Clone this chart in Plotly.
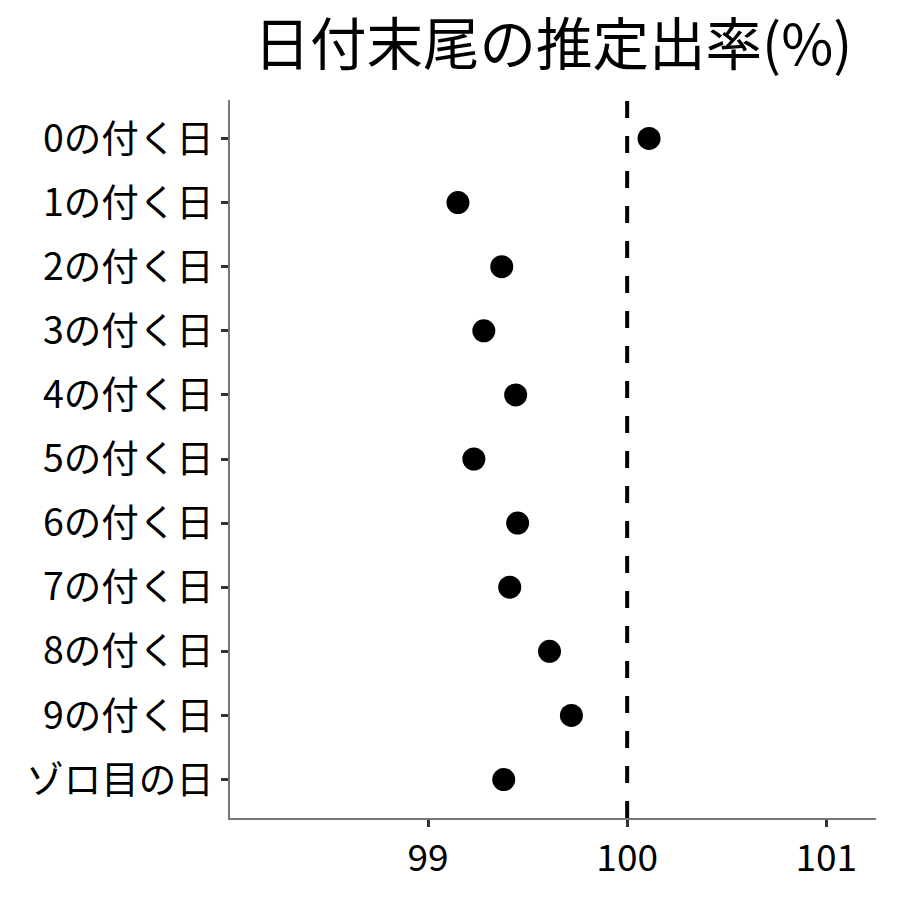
import plotly.graph_objects as go

categories = ["0の付く日", "1の付く日", "2の付く日", "3の付く日", "4の付く日",
              "5の付く日", "6の付く日", "7の付く日", "8の付く日", "9の付く日", "ゾロ目の日"]
values = [100.11, 99.15, 99.37, 99.28, 99.44, 99.23, 99.45, 99.41, 99.61, 99.72, 99.38]
reference = 100
x_ticks = [99, 100, 101]

FONT = "Noto Sans CJK JP"
OFF = 8  # page body offset

fig = go.Figure()
fig.add_trace(go.Scatter(
    x=values, y=categories, mode="markers",
    marker=dict(color="black", size=23),
    showlegend=False, cliponaxis=False,
))
fig.add_shape(type="line", xref="x", yref="paper", x0=reference, x1=reference, y0=0, y1=1,
              line=dict(color="black", width=4, dash="17px,18px"))

fig.update_layout(
    width=900, height=900,
    margin=dict(l=230 - OFF, r=24 + OFF, t=100 - OFF, b=82 + OFF, autoexpand=False),
    plot_bgcolor="white", paper_bgcolor="white",
    font=dict(family=FONT, color="black"),
    title=dict(text="日付末尾の推定出率(%)", x=(553 - OFF) / 900, xanchor="center",
               y=1 - (45 - OFF) / 900, yanchor="middle", font=dict(size=56.5, family=FONT, color="black")),
    xaxis=dict(range=[98.005, 101.25], tickvals=x_ticks, ticktext=[str(t) for t in x_ticks],
               automargin=False,
               showgrid=False, zeroline=False, showline=True, linecolor="#777", linewidth=1.5,
               ticks="outside", ticklen=7, tickwidth=3, tickcolor="#333",
               tickfont=dict(size=37, family=FONT, color="black")),
    yaxis=dict(categoryorder="array", categoryarray=categories, autorange=False,
               range=[10.6, -0.6], automargin=False,
               showgrid=False, zeroline=False, showline=True, linecolor="#777", linewidth=1.5,
               ticks="outside", ticklen=7, tickwidth=3, tickcolor="#333",
               tickfont=dict(size=37.5, family=FONT, color="black")),
)

fig.write_html("out.html")
